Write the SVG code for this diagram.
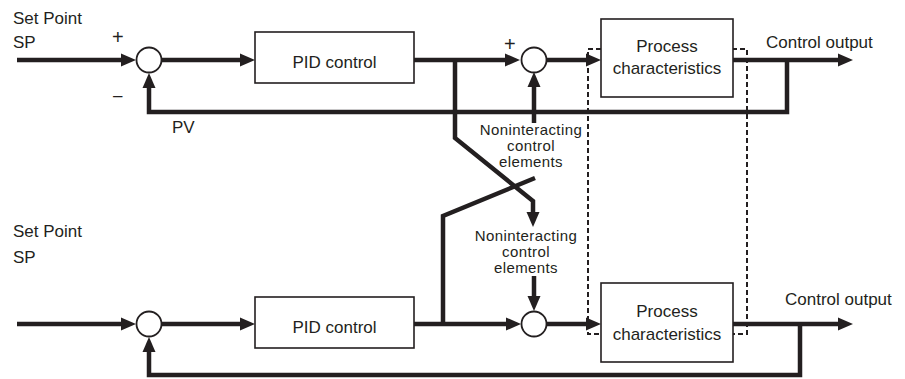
<svg xmlns="http://www.w3.org/2000/svg" width="905" height="379" viewBox="0 0 905 379">
<style>
.w{fill:none;stroke:#231f20;stroke-width:4.5;stroke-linejoin:miter;stroke-linecap:butt}
.box{fill:#fff;stroke:#231f20;stroke-width:1.6}
.sum{fill:#fff;stroke:#231f20;stroke-width:1.8}
.dash{fill:none;stroke:#231f20;stroke-width:2;stroke-dasharray:5 3}
.t{font-family:"Liberation Sans",Arial,Helvetica,sans-serif;font-size:17px;fill:#231f20}
.c{text-anchor:middle}
.s{font-size:15px;letter-spacing:0.4px}
.p{font-size:20px}
</style>
<defs>
<marker id="ah" markerUnits="userSpaceOnUse" markerWidth="15" markerHeight="14" refX="5" refY="7" orient="auto">
<path d="M0,0.5 L15,7 L0,13.5 z" fill="#231f20"/>
</marker>
</defs>
<rect id="dashed-group" class="dash" x="588" y="49" width="159" height="285"/>
<g id="connectors">
<path class="w" d="M17,60 H126" marker-end="url(#ah)"/>
<path class="w" d="M162,60 H245" marker-end="url(#ah)"/>
<path class="w" d="M414,60 H510" marker-end="url(#ah)"/>
<path class="w" d="M546,60 H591" marker-end="url(#ah)"/>
<path class="w" d="M733,60 H843" marker-end="url(#ah)"/>
<path class="w" d="M787,60 V112 H149 V83" marker-end="url(#ah)"/>
<path class="w" d="M455,60 V138 L533,201 V217" marker-end="url(#ah)"/>
<path class="w" d="M534,123 V82" marker-end="url(#ah)"/>
<path class="w" d="M17,324 H126" marker-end="url(#ah)"/>
<path class="w" d="M162,324 H245" marker-end="url(#ah)"/>
<path class="w" d="M414,324 H511" marker-end="url(#ah)"/>
<path class="w" d="M547,324 H591" marker-end="url(#ah)"/>
<path class="w" d="M733,324 H843" marker-end="url(#ah)"/>
<path class="w" d="M800,324 V375 H149 V347" marker-end="url(#ah)"/>
<path class="w" d="M443,324 V216 L535,178"/>
<path class="w" d="M534,276 V301" marker-end="url(#ah)"/>
</g>
<g id="sum1"><circle class="sum" cx="149" cy="60" r="12.5"/></g>
<g id="sum2"><circle class="sum" cx="534" cy="60" r="12.5"/></g>
<g id="sum3"><circle class="sum" cx="149" cy="324" r="12.5"/></g>
<g id="sum4"><circle class="sum" cx="534" cy="324" r="12.5"/></g>
<g id="pid1"><rect class="box" x="255" y="32" width="159" height="51"/><text class="t c" x="334.5" y="68">PID control</text></g>
<g id="pid2"><rect class="box" x="255" y="297" width="159" height="51"/><text class="t c" x="334.5" y="333">PID control</text></g>
<g id="proc1"><rect class="box" x="601" y="19" width="132" height="78"/><text class="t c" x="667" y="52">Process</text><text class="t c" x="667" y="74">characteristics</text></g>
<g id="proc2"><rect class="box" x="601" y="283" width="132" height="79"/><text class="t c" x="667" y="317">Process</text><text class="t c" x="667" y="340">characteristics</text></g>
<g id="labels">
<text class="t" x="13" y="24">Set Point</text>
<text class="t" x="13" y="48">SP</text>
<text class="t p" x="112" y="44">+</text>
<text class="t" x="113" y="101">–</text>
<text class="t p" x="504" y="51">+</text>
<text class="t" x="172" y="133">PV</text>
<text class="t" x="766" y="48">Control output</text>
<text class="t" x="13" y="237">Set Point</text>
<text class="t" x="13" y="263">SP</text>
<text class="t" x="785" y="305">Control output</text>
</g>
<g id="nonint1"><text class="t c s" x="531" y="135">Noninteracting</text><text class="t c s" x="531" y="151">control</text><text class="t c s" x="531" y="167">elements</text></g>
<g id="nonint2"><text class="t c s" x="526" y="241">Noninteracting</text><text class="t c s" x="526" y="257">control</text><text class="t c s" x="526" y="273">elements</text></g>
</svg>
